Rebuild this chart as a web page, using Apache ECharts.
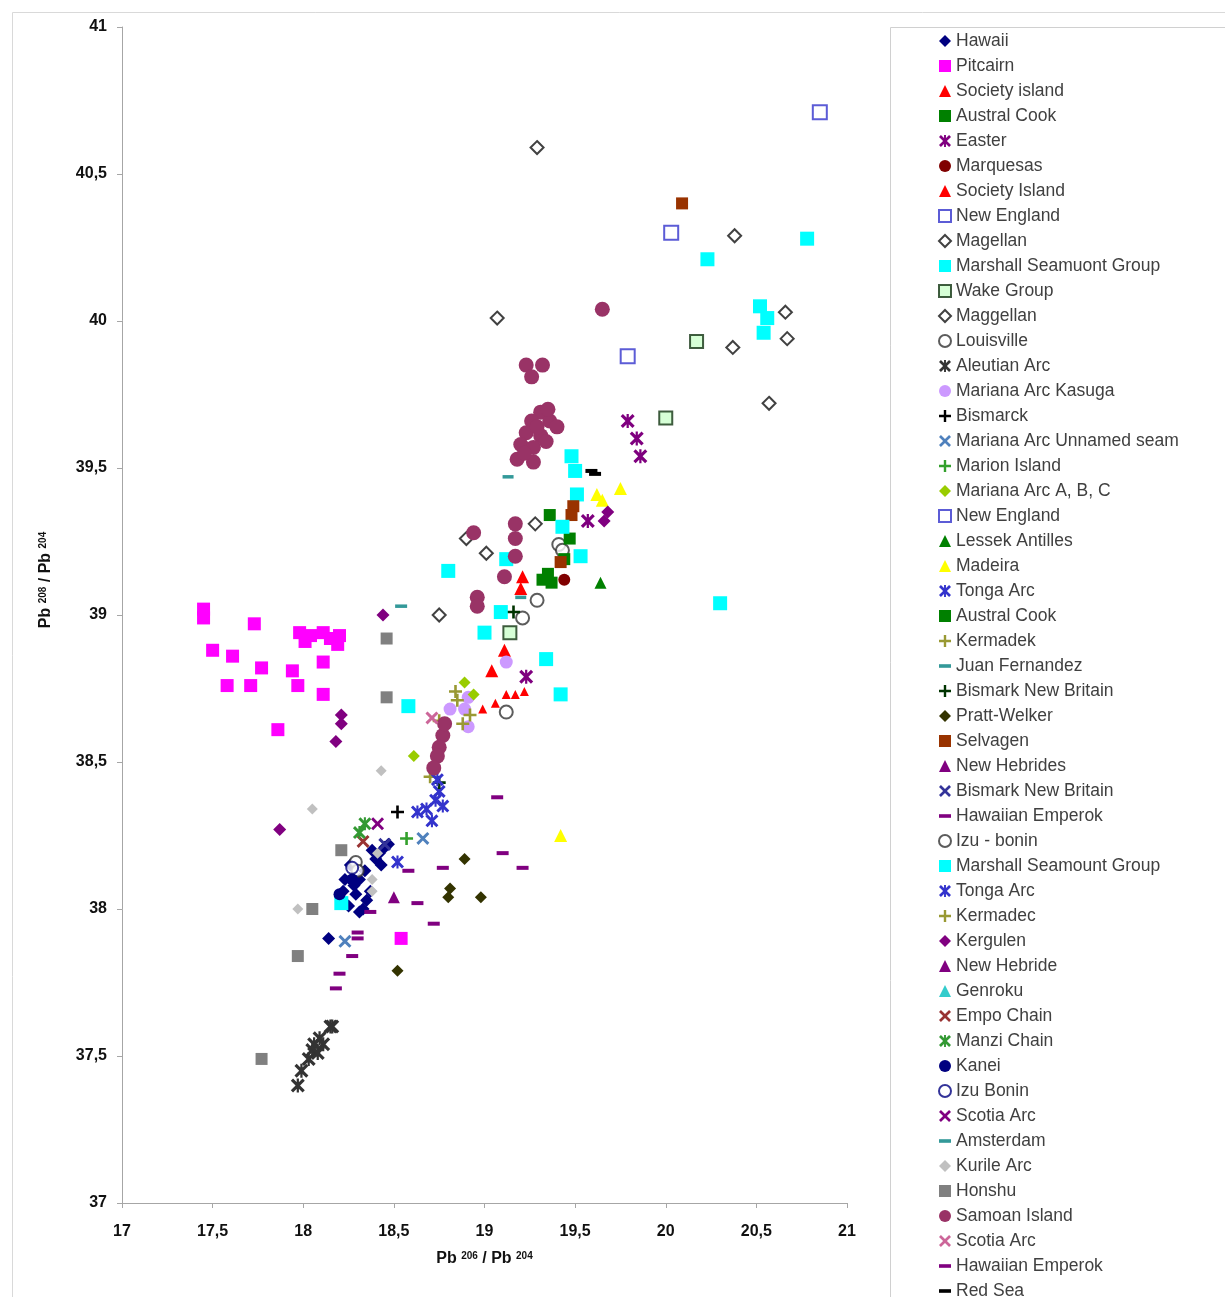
<!DOCTYPE html>
<html><head><meta charset="utf-8">
<script src="https://cdn.jsdelivr.net/npm/echarts@6/dist/echarts.min.js"></script>
<style>html,body{margin:0;padding:0;background:#fff}#c{width:1225px;height:1297px}</style>
</head><body><div id="c"></div>
<script>
// ---- tick values ----
const xTicks = [17, 17.5, 18, 18.5, 19, 19.5, 20, 20.5, 21];
const yTicks = [37, 37.5, 38, 38.5, 39, 39.5, 40, 40.5, 41];

// ---- data: [Pb206/Pb204, Pb208/Pb204] ----
const hawaii = [[18.14,37.90],[18.23,38.10],[18.29,38.05],[18.25,38.01],[18.31,37.99],[18.34,38.13],[18.40,38.17],[18.45,38.21],[18.47,38.22],[18.31,38.10],[18.26,38.15],[18.37,38.06],[18.28,38.08],[18.35,38.03],[18.42,38.19],[18.38,38.20],[18.43,38.15],[18.22,38.06],[18.33,38.00]];
const pitcairn = [[17.45,39.02],[17.45,38.99],[17.73,38.97],[17.50,38.88],[17.61,38.86],[17.77,38.82],[17.58,38.76],[17.71,38.76],[17.94,38.81],[17.97,38.76],[18.11,38.84],[18.11,38.73],[17.86,38.61],[17.98,38.94],[18.04,38.93],[18.11,38.94],[18.15,38.92],[18.19,38.90],[18.20,38.93],[18.01,38.91],[18.54,37.90]];
const societySmall = [[18.99,38.68],[19.06,38.70],[19.12,38.73],[19.17,38.73],[19.22,38.74]];
const australCook1 = [[19.36,39.34],[19.32,39.12],[19.37,39.11]];
const easter = [[19.79,39.66],[19.84,39.60],[19.86,39.54],[19.57,39.32],[19.23,38.79]];
const marquesas = [[19.44,39.12]];
const societyLarge = [[19.11,38.88],[19.04,38.81],[19.21,39.13],[19.20,39.09]];
const newEngland1 = [[20.85,40.71],[20.03,40.30]];
const magellan = [[19.29,40.59],[20.38,40.29],[20.66,40.03],[20.67,39.94],[20.37,39.91],[20.57,39.72]];
const marshall1 = [[20.78,40.28],[20.23,40.21],[20.52,40.05],[20.56,40.01],[20.54,39.96],[20.30,39.04],[19.48,39.54],[19.50,39.49],[19.51,39.41]];
const wake = [[20.17,39.93],[20.00,39.67],[19.14,38.94]];
const maggellan = [[19.07,40.01],[18.90,39.26],[19.01,39.21],[19.28,39.31],[18.75,39.00]];
const louisville = [[19.41,39.24],[19.43,39.22],[19.29,39.05],[19.21,38.99],[19.12,38.67]];
const aleutian = [[17.97,37.40],[17.99,37.45],[18.05,37.52],[18.09,37.56],[18.15,37.60],[18.06,37.54],[18.03,37.49],[18.11,37.54],[18.08,37.51],[18.16,37.60]];
const kasuga = [[19.12,38.84],[18.91,38.72],[18.89,38.68],[18.91,38.62],[18.81,38.68]];
const bismarck = [[18.52,38.33]];
const unnamedSeam = [[18.23,37.89],[18.66,38.24]];
const marion = [[18.57,38.24]];
const marianaABC = [[18.61,38.52],[18.89,38.77],[18.94,38.73]];
const newEngland2 = [[19.79,39.88]];
const lessek = [[19.64,39.11]];
const madeira = [[19.62,39.41],[19.65,39.39],[19.75,39.43],[19.42,38.25]];
const tonga1 = [[18.73,38.37],[18.68,38.34],[18.63,38.33],[18.75,38.40],[18.71,38.30]];
const australCook2 = [[19.35,39.14],[19.47,39.26],[19.44,39.19]];
const kermadek = [[18.70,38.45],[18.84,38.74],[18.88,38.63],[18.75,38.64]];
const juanFernandez = [[19.13,39.47],[19.20,39.06]];
const bismarkNB1 = [[18.75,38.43],[19.16,39.01]];
const prattWelker = [[18.89,38.17],[18.81,38.07],[18.80,38.04],[18.98,38.04],[18.52,37.79]];
const selvagen = [[20.09,40.40],[19.49,39.37],[19.48,39.34],[19.42,39.18]];
const newHebrides = [[18.50,38.04]];
const bismarkNB2 = [[18.45,38.22]];
const hawEmperok1 = [[19.07,38.38],[19.10,38.19],[19.21,38.14],[18.58,38.13],[18.77,38.14],[18.63,38.02],[18.72,37.95]];
const izuBonin1 = [[18.29,38.16],[18.30,38.13]];
const marshall2 = [[19.43,39.30],[19.53,39.20],[19.12,39.19],[18.80,39.15],[19.09,39.01],[19.00,38.94],[19.34,38.85],[19.42,38.73],[18.58,38.69],[18.21,38.02]];
const tonga2 = [[18.74,38.44],[18.52,38.16],[18.77,38.35]];
const kermadec = [[18.85,38.71],[18.92,38.66]];
const kergulen = [[18.44,39.00],[18.21,38.66],[18.21,38.63],[18.18,38.57],[17.87,38.27],[19.68,39.35],[19.66,39.32]];
const newHebride = [];
const genroku = [];
const empoChain = [[18.33,38.23]];
const manziChain = [[18.34,38.29],[18.31,38.26]];
const kanei = [[18.20,38.05],[18.27,38.10]];
const izuBonin2 = [[18.27,38.14]];
const scotiaArc1 = [[18.41,38.29]];
const amsterdam = [[18.54,39.03]];
const kurile = [[18.43,38.47],[18.05,38.34],[17.97,38.00],[18.38,38.10],[18.41,38.19],[18.38,38.06]];
const honshu = [[18.46,38.92],[18.46,38.72],[18.21,38.20],[18.05,38.00],[17.97,37.84],[17.77,37.49]];
const samoan = [[19.65,40.04],[19.23,39.85],[19.32,39.85],[19.26,39.81],[19.31,39.69],[19.26,39.66],[19.36,39.66],[19.40,39.64],[19.23,39.62],[19.31,39.61],[19.20,39.58],[19.27,39.57],[19.34,39.59],[19.18,39.53],[19.27,39.52],[19.29,39.64],[19.35,39.70],[19.22,39.55],[18.94,39.28],[19.17,39.31],[19.17,39.26],[19.17,39.20],[19.11,39.13],[18.96,39.06],[18.96,39.03],[18.77,38.59],[18.75,38.55],[18.74,38.52],[18.72,38.48],[18.78,38.63]];
const scotiaArc2 = [[18.71,38.65]];
const hawEmperok2 = [[18.37,37.99],[18.30,37.92],[18.30,37.90],[18.27,37.84],[18.20,37.78],[18.18,37.73]];
const redSea = [[19.59,39.49],[19.61,39.48]];

// ---- marker shapes ----
const PLUS = 'path://M4,0H6V4H10V6H6V10H4V6H0V4H4Z';
const XM = 'path://M0,1.6L1.6,0L5,3.4L8.4,0L10,1.6L6.6,5L10,8.4L8.4,10L5,6.6L1.6,10L0,8.4L3.4,5Z';
const AST = 'path://M0,1.6L1.6,0L5,3.4L8.4,0L10,1.6L6.6,5L10,8.4L8.4,10L5,6.6L1.6,10L0,8.4L3.4,5Z M4.2,0H5.8V10H4.2Z';
const DASH = 'path://M0,0H10V3H0Z';
const ZW = '\u200b';

// name, data, symbol, size, color, hollow/border
const defs = [
  ['Hawaii', hawaii, 'diamond', 13, '#000080'],
  ['Pitcairn', pitcairn, 'rect', 13, '#FF00FF'],
  ['Society island', societySmall, 'triangle', 9, '#FF0000'],
  ['Austral Cook', australCook1, 'rect', 12, '#008000'],
  ['Easter', easter, AST, 14, '#7F007F'],
  ['Marquesas', marquesas, 'circle', 12, '#800000'],
  ['Society Island', societyLarge, 'triangle', 13, '#FF0000'],
  ['New England', newEngland1, 'rect', 14, '#3333CC', 'hollow'],
  ['Magellan', magellan, 'diamond', 13, '#111111', 'hollow'],
  ['Marshall Seamuont Group', marshall1, 'rect', 14, '#00FFFF'],
  ['Wake Group', wake, 'rect', 13, '#CCFFCC', '#113311'],
  ['Maggellan', maggellan, 'diamond', 13, '#111111', 'hollow'],
  ['Louisville', louisville, 'circle', 13, '#333333', 'hollow'],
  ['Aleutian Arc', aleutian, AST, 14, '#333333'],
  ['Mariana Arc Kasuga', kasuga, 'circle', 13, '#CC99FF'],
  ['Bismarck', bismarck, PLUS, 13, '#000000'],
  ['Mariana Arc Unnamed seam', unnamedSeam, XM, 13, '#4F81BD'],
  ['Marion Island', marion, PLUS, 13, '#33A02C'],
  ['Mariana Arc A, B, C', marianaABC, 'diamond', 12, '#99CC00'],
  ['New England' + ZW, newEngland2, 'rect', 14, '#3333CC', 'hollow'],
  ['Lessek Antilles', lessek, 'triangle', 12, '#008000'],
  ['Madeira', madeira, 'triangle', 13, '#FFFF00'],
  ['Tonga Arc', tonga1, AST, 13, '#3333CC'],
  ['Austral Cook' + ZW, australCook2, 'rect', 12, '#008000'],
  ['Kermadek', kermadek, PLUS, 13, '#999933'],
  ['Juan Fernandez', juanFernandez, DASH, [11, 3.5], '#339999'],
  ['Bismark New Britain', bismarkNB1, PLUS, 13, '#003300'],
  ['Pratt-Welker', prattWelker, 'diamond', 12, '#333300'],
  ['Selvagen', selvagen, 'rect', 12, '#993300'],
  ['New Hebrides', newHebrides, 'triangle', 12, '#800080'],
  ['Bismark New Britain' + ZW, bismarkNB2, XM, 13, '#333399'],
  ['Hawaiian Emperok', hawEmperok1, DASH, [12, 4], '#800080'],
  ['Izu - bonin', izuBonin1, 'circle', 12, '#333333', 'hollow'],
  ['Marshall Seamount Group', marshall2, 'rect', 14, '#00FFFF'],
  ['Tonga Arc' + ZW, tonga2, AST, 13, '#3333CC'],
  ['Kermadec', kermadec, PLUS, 13, '#999933'],
  ['Kergulen', kergulen, 'diamond', 13, '#800080'],
  ['New Hebride', newHebride, 'triangle', 12, '#800080'],
  ['Genroku', genroku, 'triangle', 12, '#33CCCC'],
  ['Empo Chain', empoChain, XM, 13, '#993333'],
  ['Manzi Chain', manziChain, AST, 13, '#339933'],
  ['Kanei', kanei, 'circle', 12, '#000080'],
  ['Izu Bonin', izuBonin2, 'circle', 12, '#000080', 'hollow'],
  ['Scotia Arc', scotiaArc1, XM, 13, '#800080'],
  ['Amsterdam', amsterdam, DASH, [12, 3.5], '#339999'],
  ['Kurile Arc', kurile, 'diamond', 11, '#C0C0C0'],
  ['Honshu', honshu, 'rect', 12, '#808080'],
  ['Samoan Island', samoan, 'circle', 15, '#993366'],
  ['Scotia Arc' + ZW, scotiaArc2, XM, 13, '#CC6699'],
  ['Hawaiian Emperok' + ZW, hawEmperok2, DASH, [12, 4], '#800080'],
  ['Red Sea', redSea, DASH, [12, 4], '#000000']
];

const FONT = "'Liberation Sans', Arial, sans-serif";
const fmt = v => String(v).replace('.', ',');

const series = defs.map(d => {
  const [name, data, symbol, size, color, extra] = d;
  let itemStyle;
  if (extra === 'hollow') itemStyle = { color: '#ffffff', borderColor: color, borderWidth: 2 };
  else if (extra) itemStyle = { color: color, borderColor: extra, borderWidth: 2 };
  else itemStyle = { color: color, opacity: 1 };
  return {
    type: 'scatter', name, data, symbol, symbolSize: size,
    itemStyle, emphasis: { disabled: true }, silent: true
  };
});

const chart = echarts.init(document.getElementById('c'), null, { renderer: 'canvas' });
chart.setOption({
  animation: false,
  backgroundColor: '#ffffff',
  textStyle: { fontFamily: FONT },
  grid: { left: 122, top: 27, width: 725, height: 1176, containLabel: false },
  graphic: [
    { type: 'rect', shape: { x: 12.5, y: 12.5, width: 1300, height: 1400 }, style: { fill: 'none', stroke: '#d9d9d9', lineWidth: 1 }, z: -10, silent: true },
    { type: 'rect', shape: { x: 890.5, y: 27.5, width: 400, height: 1400 }, style: { fill: 'none', stroke: '#d0d0d0', lineWidth: 1 }, z: -10, silent: true }
  ],
  legend: {
    orient: 'vertical', left: 938, top: 32, height: 1300, padding: 0,
    itemWidth: 12, itemHeight: 12, itemGap: 7, selectedMode: false,
    textStyle: { fontSize: 17.5, color: '#404040', fontFamily: FONT, lineHeight: 18 },
    data: defs.map(d => d[0])
  },
  xAxis: {
    type: 'value', min: xTicks[0], max: xTicks[xTicks.length - 1], interval: 0.5,
    axisLine: { show: true, onZero: false, lineStyle: { color: '#a6a6a6', width: 1 } },
    axisTick: { show: true, length: 5, lineStyle: { color: '#a6a6a6' } },
    splitLine: { show: false },
    axisLabel: { formatter: fmt, fontSize: 16, fontWeight: 'bold', color: '#111', margin: 21, fontFamily: FONT },
    name: 'Pb {s|206} / Pb {s|204}', nameLocation: 'middle', nameGap: 48,
    nameTextStyle: { fontSize: 16, fontWeight: 'bold', color: '#111', fontFamily: FONT,
      rich: { s: { fontSize: 10, fontWeight: 'bold', color: '#111', verticalAlign: 'top', fontFamily: FONT } } }
  },
  yAxis: {
    type: 'value', min: yTicks[0], max: yTicks[yTicks.length - 1], interval: 0.5,
    axisLine: { show: true, onZero: false, lineStyle: { color: '#a6a6a6', width: 1 } },
    axisTick: { show: true, length: 5, lineStyle: { color: '#a6a6a6' } },
    splitLine: { show: false },
    axisLabel: { formatter: fmt, fontSize: 16, fontWeight: 'bold', color: '#111', margin: 15, fontFamily: FONT },
    name: 'Pb {s|208} / Pb {s|204}', nameLocation: 'middle', nameGap: 68,
    nameTextStyle: { fontSize: 16, fontWeight: 'bold', color: '#111', fontFamily: FONT, padding: [0, 0, 0, 70],
      rich: { s: { fontSize: 10, fontWeight: 'bold', color: '#111', verticalAlign: 'top', fontFamily: FONT } } }
  },
  series
});
</script>
</body></html>
